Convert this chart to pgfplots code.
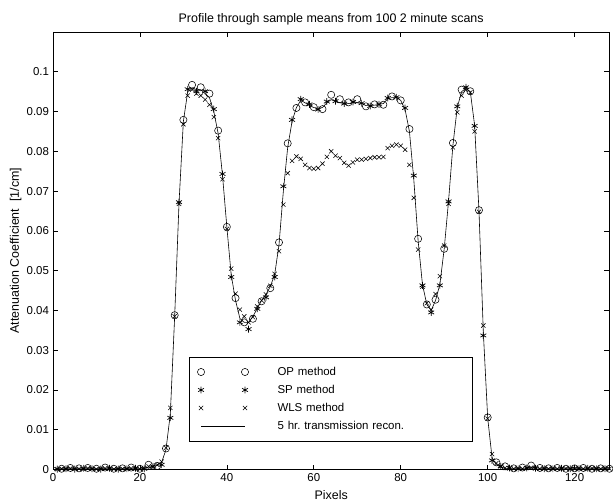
\documentclass[border=0pt]{standalone}
\usepackage{fontspec}
\setmainfont{Liberation Sans}
\usepackage{pgfplots}
\pgfplotsset{compat=1.18}
\pgfplotsset{
  twomarks/.style={legend image code/.code={\draw[mark repeat=2,mark phase=1,##1] plot coordinates {(0bp,0bp) (22bp,0bp) (44bp,0bp)};}},
  lineleg/.style={legend image code/.code={\draw[##1] (0bp,0bp) -- (44bp,0bp);}},
}

% 5 hr. transmission reconstruction, every pixel
\pgfplotstableread{
x y
1 0.0002
2 0.0002
3 0.0002
4 0.0002
5 0.0002
6 0.0002
7 0.0002
8 0.0002
9 0.0002
10 0.0002
11 0.0002
12 0.0002
13 0.0002
14 0.0002
15 0.0002
16 0.0002
17 0.0002
18 0.0002
19 0.0002
20 0.0002
21 0.0003
22 0.0006
23 0.0008
24 0.0010
25 0.0018
26 0.0050
27 0.0140
28 0.0385
29 0.0670
30 0.0875
31 0.0950
32 0.0960
33 0.0955
34 0.0955
35 0.0945
36 0.0935
37 0.0900
38 0.0845
39 0.0740
40 0.0610
41 0.0490
42 0.0425
43 0.0380
44 0.0370
45 0.0370
46 0.0385
47 0.0405
48 0.0425
49 0.0440
50 0.0460
51 0.0490
52 0.0565
53 0.0700
54 0.0810
55 0.0875
56 0.0910
57 0.0928
58 0.0922
59 0.0915
60 0.0910
61 0.0908
62 0.0910
63 0.0922
64 0.0930
65 0.0925
66 0.0922
67 0.0920
68 0.0920
69 0.0922
70 0.0922
71 0.0920
72 0.0915
73 0.0915
74 0.0916
75 0.0918
76 0.0920
77 0.0932
78 0.0935
79 0.0935
80 0.0928
81 0.0905
82 0.0850
83 0.0730
84 0.0575
85 0.0465
86 0.0415
87 0.0400
88 0.0425
89 0.0465
90 0.0555
91 0.0675
92 0.0815
93 0.0910
94 0.0950
95 0.0958
96 0.0950
97 0.0865
98 0.0650
99 0.0345
100 0.0130
101 0.0030
102 0.0012
103 0.0006
104 0.0003
105 0.0003
106 0.0003
107 0.0003
108 0.0003
109 0.0004
110 0.0006
111 0.0004
112 0.0003
113 0.0003
114 0.0003
115 0.0003
116 0.0003
117 0.0003
118 0.0003
119 0.0003
120 0.0003
121 0.0003
122 0.0003
123 0.0003
124 0.0003
125 0.0003
126 0.0003
127 0.0003
128 0.0003
}\recon

% OP method, even pixels
\pgfplotstableread{
x y
2 0.0002
4 0.0004
6 0.0003
8 0.0004
10 0.0002
12 0.0005
14 0.0002
16 0.0003
18 0.0005
20 0.0002
22 0.0012
24 0.0009
26 0.0053
28 0.0388
30 0.0879
32 0.0967
34 0.0961
36 0.0945
38 0.0852
40 0.0610
42 0.0431
44 0.0370
46 0.0379
48 0.0423
50 0.0456
52 0.0571
54 0.0820
56 0.0909
58 0.0923
60 0.0911
62 0.0906
64 0.0942
66 0.0931
68 0.0923
70 0.0931
72 0.0913
74 0.0918
76 0.0917
78 0.0938
80 0.0928
82 0.0856
84 0.0580
86 0.0415
88 0.0427
90 0.0555
92 0.0821
94 0.0955
96 0.0951
98 0.0652
100 0.0131
102 0.0018
104 0.0008
106 0.0003
108 0.0005
110 0.0010
112 0.0004
114 0.0003
116 0.0004
118 0.0002
120 0.0003
122 0.0004
124 0.0002
126 0.0003
128 0.0002
}\opdata

% SP method, odd pixels
\pgfplotstableread{
x y
1 0.0001
3 0.0002
5 0.0001
7 0.0003
9 0.0002
11 0.0001
13 0.0003
15 0.0001
17 0.0002
19 0.0003
21 0.0002
23 0.0008
25 0.0012
27 0.0130
29 0.0672
31 0.0956
33 0.0951
35 0.0951
37 0.0906
39 0.0743
41 0.0484
43 0.0370
45 0.0353
47 0.0404
49 0.0433
51 0.0484
53 0.0712
55 0.0879
57 0.0931
59 0.0918
61 0.0905
63 0.0925
65 0.0926
67 0.0920
69 0.0924
71 0.0921
73 0.0914
75 0.0918
77 0.0934
79 0.0936
81 0.0909
83 0.0739
85 0.0463
87 0.0395
89 0.0463
91 0.0674
93 0.0913
95 0.0961
97 0.0864
99 0.0337
101 0.0023
103 0.0008
105 0.0004
107 0.0002
109 0.0004
111 0.0003
113 0.0002
115 0.0002
117 0.0003
119 0.0002
121 0.0002
123 0.0003
125 0.0002
127 0.0002
}\spdata

% WLS method, every pixel
\pgfplotstableread{
x y
1 0.0001
2 0.0002
3 0.0001
4 0.0003
5 0.0002
6 0.0002
7 0.0001
8 0.0003
9 0.0002
10 0.0001
11 0.0002
12 0.0003
13 0.0002
14 0.0001
15 0.0002
16 0.0002
17 0.0001
18 0.0003
19 0.0002
20 0.0001
21 0.0003
22 0.0008
23 0.0006
24 0.0012
25 0.0020
26 0.0055
27 0.0155
28 0.0385
29 0.0668
30 0.0868
31 0.0940
32 0.0955
33 0.0945
34 0.0940
35 0.0930
36 0.0917
37 0.0886
38 0.0833
39 0.0730
40 0.0605
41 0.0505
42 0.0442
43 0.0402
44 0.0385
45 0.0370
46 0.0383
47 0.0410
48 0.0425
49 0.0440
50 0.0462
51 0.0492
52 0.0549
53 0.0666
54 0.0745
55 0.0776
56 0.0787
57 0.0781
58 0.0766
59 0.0758
60 0.0756
61 0.0758
62 0.0769
63 0.0786
64 0.0800
65 0.0789
66 0.0783
67 0.0771
68 0.0764
69 0.0772
70 0.0779
71 0.0779
72 0.0781
73 0.0783
74 0.0785
75 0.0785
76 0.0786
77 0.0808
78 0.0814
79 0.0817
80 0.0814
81 0.0804
82 0.0766
83 0.0683
84 0.0553
85 0.0460
86 0.0418
87 0.0402
88 0.0441
89 0.0486
90 0.0563
91 0.0668
92 0.0810
93 0.0898
94 0.0940
95 0.0955
96 0.0948
97 0.0850
98 0.0648
99 0.0362
100 0.0128
101 0.0039
102 0.0016
103 0.0008
104 0.0004
105 0.0003
106 0.0002
107 0.0003
108 0.0002
109 0.0004
110 0.0005
111 0.0003
112 0.0002
113 0.0003
114 0.0002
115 0.0003
116 0.0002
117 0.0002
118 0.0003
119 0.0002
120 0.0002
121 0.0003
122 0.0002
123 0.0002
124 0.0003
125 0.0002
126 0.0002
127 0.0003
128 0.0002
}\wlsdata

\begin{document}
\frenchspacing
\fontsize{11.5}{13.5}\selectfont
\begin{tikzpicture}
\begin{axis}[
  scale only axis,
  width=557bp, height=438bp,
  xmin=0, xmax=128,
  ymin=0, ymax=0.11,
  xtick={0,20,...,120},
  ytick={0,0.01,...,0.1},
  tick align=inside,
  major tick length=5bp,
  axis line style={line width=0.6bp},
  every tick/.style={black, line width=0.6bp},
  /pgf/number format/assume math mode=true,
  yticklabel style={/pgf/number format/fixed, /pgf/number format/precision=2},
  scaled y ticks=false,
  ticklabel style={font=\fontsize{11.5}{13.5}\selectfont},
  title={Profile through sample means from 100 2 minute scans},
  title style={font=\fontsize{12.5}{14}\selectfont, yshift=-3bp},
  xlabel={Pixels},
  xlabel style={font=\fontsize{12.5}{14}\selectfont, yshift=-1bp},
  ylabel={Attenuation Coefficient\ \ [1/cm]},
  ylabel style={font=\fontsize{12.5}{14}\selectfont, at={(axis description cs:-0.067,0.5)}, anchor=center},
  legend cell align=left,
  legend style={at={(axis cs:31.3,0.0284)}, anchor=north west,
    draw=black, line width=0.9bp, inner xsep=8bp, inner ysep=8bp,
    row sep=4bp,
    font=\fontsize{11.5}{13.5}\selectfont,
    nodes={text width=185bp, align=left},
    /tikz/every odd column/.append style={column sep=27bp}},
]
\addplot[only marks, mark=o, mark size=3.6bp, line width=0.55bp, twomarks]
  table {\opdata};
\addlegendentry{OP method}
\addplot[only marks, mark=asterisk, mark size=3.4bp, line width=0.7bp, twomarks]
  table {\spdata};
\addlegendentry{SP method}
\addplot[only marks, mark=x, mark size=3bp, line width=0.55bp, twomarks]
  table {\wlsdata};
\addlegendentry{WLS method}
\addplot[black, line width=0.6bp, mark=none, lineleg]
  table {\recon};
\addlegendentry{5 hr. transmission recon.}
\end{axis}
\path (current axis.south west) ++(-53bp,-30bp) rectangle ++(613bp,500bp);
\end{tikzpicture}
\end{document}
